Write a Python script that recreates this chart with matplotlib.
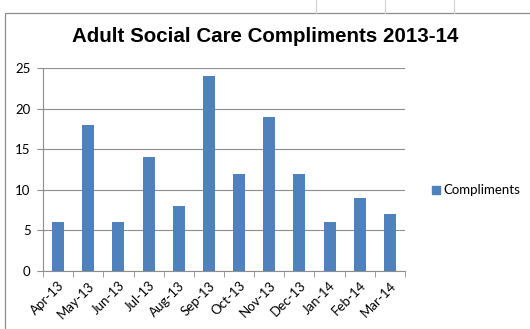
import matplotlib.pyplot as plt
from matplotlib.patches import Rectangle
from matplotlib.lines import Line2D
import numpy as np

months = ['Apr-13', 'May-13', 'Jun-13', 'Jul-13', 'Aug-13', 'Sep-13',
          'Oct-13', 'Nov-13', 'Dec-13', 'Jan-14', 'Feb-14', 'Mar-14']
compliments = [6, 18, 6, 14, 8, 24, 12, 19, 12, 6, 9, 7]

blue = '#4F81BD'
grey = '#8e8e8e'

fig = plt.figure(figsize=(5.3, 3.29), dpi=100)

# spreadsheet cell lines above the chart
for xp in [316, 385, 454]:
    fig.add_artist(Line2D([xp/530, xp/530], [1, 1-13/329], color='#d0d0d0', lw=0.8))
# chart border
fig.add_artist(Rectangle((5/530, -0.1), 1, 1-13/329+0.1, fill=False,
                         edgecolor='#8c8c8c', lw=0.9))

ax = fig.add_axes([43/530, 1-271/329, (405-43)/530, (271-68)/329])
x = np.arange(len(months))
ax.bar(x, compliments, width=0.4, color=blue, zorder=3)
ax.set_xlim(-0.5, len(months)-0.5)
ax.set_ylim(0, 25)
ax.set_yticks(range(0, 26, 5))
ax.grid(axis='y', color=grey, lw=0.8, zorder=0)
for s in ['top', 'right']:
    ax.spines[s].set_visible(False)
for s in ['left', 'bottom']:
    ax.spines[s].set_color(grey)
ax.set_xticks(x)
ax.set_xticklabels(months, rotation=45, ha='right', rotation_mode='anchor',
                   family='Lato', fontsize=9.5)
ax.set_xticks(np.arange(-0.5, len(months)), minor=True)
ax.tick_params(axis='x', which='major', length=0, pad=6)
ax.tick_params(axis='x', which='minor', length=4, color=grey)
ax.tick_params(axis='y', length=4, color=grey, labelsize=9.5, pad=5)
for lab in ax.get_yticklabels():
    lab.set_family('Lato')

fig.text(265/530, 1-37/329, 'Adult Social Care Compliments 2013-14',
         ha='center', va='center', fontsize=14.8, fontweight='bold',
         family='Liberation Sans')

fig.add_artist(Rectangle((432/530, 1-194/329), 8/530, 8/329, color=blue))
fig.text(443/530, 1-190/329, 'Compliments', ha='left', va='center',
         family='Lato', fontsize=9.5)

fig.savefig('out.png', dpi=100)
